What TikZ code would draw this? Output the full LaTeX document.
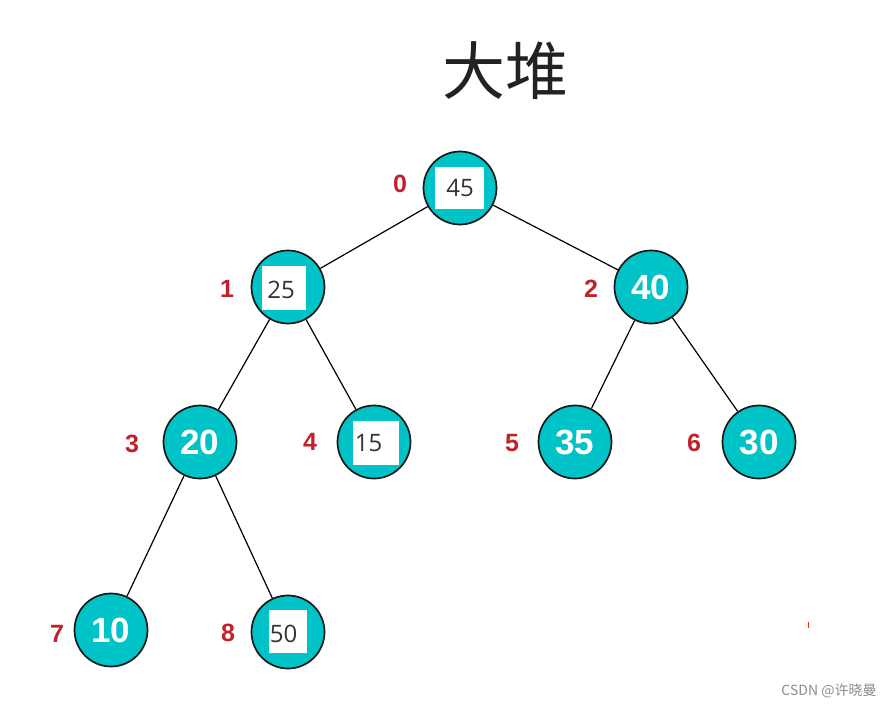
\documentclass[tikz,border=0pt]{standalone}
\usepackage{fontspec}
\setmainfont{Liberation Sans}
\newfontfamily\cjk{Noto Sans CJK SC}
\newfontfamily\boxfont{Open Sans}
\definecolor{heapteal}{RGB}{0,195,200}
\definecolor{labred}{RGB}{192,34,43}
\definecolor{titlegray}{RGB}{34,34,34}
\tikzset{
  heapnode/.style={circle, minimum size=73pt, inner sep=0pt, fill=heapteal, draw=black!90, line width=1.7pt,
    text=white, font=\bfseries\fontsize{35}{35}\selectfont},
  idxlabel/.style={text=labred, font=\bfseries\fontsize{25}{25}\selectfont, inner sep=0pt},
  wbox/.style={fill=white, draw=none, inner sep=0pt},
  boxtext/.style={text=black!80, font=\boxfont\fontsize{24}{24}\selectfont, inner sep=0pt},
  edge/.style={draw=black, line width=1.2pt}
}
\begin{document}
\begin{tikzpicture}[x=1pt,y=-1pt]
\useasboundingbox (0,0) rectangle (895,710);
\fill[white] (0,0) rectangle (895,710);
% nodes
\node[heapnode] (n0) at (460,188) {};
\node[heapnode] (n1) at (288,287) {};
\node[heapnode] (n2) at (651,287) {40};
\node[heapnode] (n3) at (200,442) {20};
\node[heapnode] (n4) at (374,442) {};
\node[heapnode] (n5) at (575,442) {35};
\node[heapnode] (n6) at (759,442) {30};
\node[heapnode] (n7) at (111,630) {10};
\node[heapnode] (n8) at (288,632) {};
% edges
\draw[edge] (n0) -- (n1);
\draw[edge] (n0) -- (n2);
\draw[edge] (n1) -- (n3);
\draw[edge] (n1) -- (n4);
\draw[edge] (n2) -- (n5);
\draw[edge] (n2) -- (n6);
\draw[edge] (n3) -- (n7);
\draw[edge] (n3) -- (n8);
% white boxes
\node[wbox, minimum width=49pt, minimum height=42pt] (b0) at (459.5,188) {};
\node[boxtext] (t0) at (460,188) {45};
\node[wbox, minimum width=44pt, minimum height=44pt] (b1) at (284,288) {};
\node[boxtext] (t1) at (281,290) {25};
\node[wbox, minimum width=46pt, minimum height=44pt] (b4) at (376,443) {};
\node[boxtext] (t4) at (368.5,443) {15};
\node[wbox, minimum width=38pt, minimum height=43pt] (b8) at (288,631.5) {};
\node[boxtext] (t8) at (283.5,634) {50};
% index labels
\node[idxlabel] (l0) at (400,184) {0};
\node[idxlabel] (l1) at (227,289) {1};
\node[idxlabel] (l2) at (591,289) {2};
\node[idxlabel] (l3) at (132,444) {3};
\node[idxlabel] (l4) at (310,442) {4};
\node[idxlabel] (l5) at (512,443) {5};
\node[idxlabel] (l6) at (694,443) {6};
\node[idxlabel] (l7) at (57,634) {7};
\node[idxlabel] (l8) at (228,633) {8};
% title
\node[text=titlegray, font=\cjk\fontsize{63}{63}\selectfont, inner sep=0pt] (title) at (505,71) {大堆};
% watermark
\node[text=black!45, font=\cjk\fontsize{14}{14}\selectfont, inner sep=0pt] (wm) at (829,691) {CSDN @许晓曼};
% tiny red mark
\draw[red!70!orange, line width=1pt] (808.5,622) -- (808.5,628);
\end{tikzpicture}
\end{document}
